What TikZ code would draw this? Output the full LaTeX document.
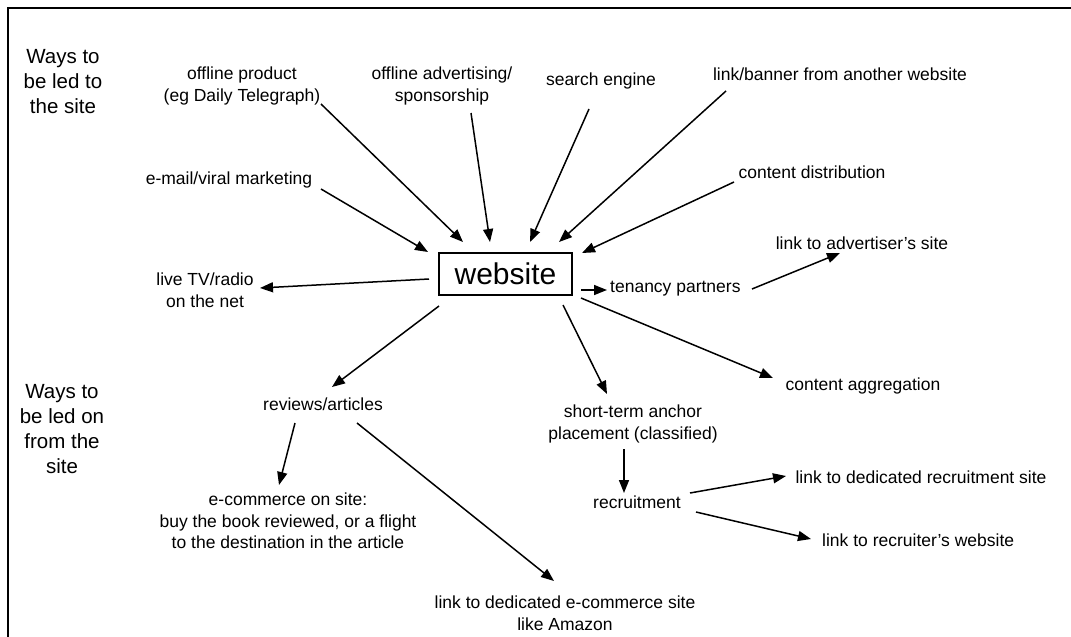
\documentclass[tikz,border=0pt]{standalone}
\usepackage{fontspec}
\setmainfont{Liberation Sans}
\usetikzlibrary{arrows.meta}
\begin{document}
\begin{tikzpicture}[x=1pt,y=-1pt,
  lbl/.style={font=\fontsize{17.5}{21.5}\selectfont, align=center, inner sep=0pt},
  side/.style={font=\fontsize{20.5}{25}\selectfont, align=center, inner sep=0pt},
  hub/.style={draw, line width=1.5pt, minimum width=133pt, minimum height=42pt,
              inner sep=0pt, font=\fontsize{30}{36}\selectfont},
  conn/.style={line width=1.5pt, -{Triangle[length=13pt,width=10pt]}},
  frame/.style={line width=1.7pt}]
\useasboundingbox (0,0) rectangle (1071,637);

% open frame: top and left edges only
\coordinate (fr1) at (1071,8);
\coordinate (fr2) at (8,8);
\coordinate (fr3) at (8,637);
\draw[frame] (fr1) -- (fr2) -- (fr3);

% side headings
\node[side] (waysto)   at (63,82)  {Ways to\\be led to\\the site};
\node[side] (waysfrom) at (62,429) {Ways to\\be led on\\from the\\site};

% central node
\node[hub] (web) at (505.5,274) {website};

% sources leading to the site
\node[lbl] (offprod) at (242,86)  {offline product\\(eg Daily Telegraph)};
\node[lbl] (offadv)  at (442,86)  {offline advertising/\\sponsorship};
\node[lbl] (search)  at (601,81)  {search engine};
\node[lbl] (banner)  at (840,74)  {link/banner from another website};
\node[lbl] (email)   at (229,180) {e-mail/viral marketing};
\node[lbl] (distrib) at (812,172) {content distribution};

% destinations led on from the site
\node[lbl] (livetv)    at (205,290) {live TV/radio\\on the net};
\node[lbl, anchor=west] (tenancy) at (610,289) {tenancy partners};
\node[lbl] (advsite)   at (862,243) {link to advertiser’s site};
\node[lbl] (aggr)      at (863,386) {content aggregation};
\node[lbl] (reviews)   at (323,404) {reviews/articles};
\node[lbl] (shortterm) at (633,424) {short-term anchor\\placement (classified)};
\node[lbl] (recruit)   at (637,502) {recruitment};
\node[lbl] (dedrec)    at (921,477) {link to dedicated recruitment site};
\node[lbl, anchor=west] (recruiter) at (822,540) {link to recruiter’s website};
\node[lbl] (ecom)      at (288,521) {e-commerce on site:\\buy the book reviewed, or a flight\\to the destination in the article};
\node[lbl] (amazon)    at (565,613) {link to dedicated e-commerce site\\like Amazon};

% connector end points
\coordinate (offprodS) at (321,104);  \coordinate (offprodE) at (463,242);
\coordinate (offadvS)  at (471,113);  \coordinate (offadvE)  at (490,242);
\coordinate (searchS)  at (589,109);  \coordinate (searchE)  at (530,242);
\coordinate (bannerS)  at (726,91);   \coordinate (bannerE)  at (559,242);
\coordinate (distribS) at (734,182);  \coordinate (distribE) at (582,253);
\coordinate (emailS)   at (321,189);  \coordinate (emailE)   at (428,252);
\coordinate (livetvS)  at (429,279);  \coordinate (livetvE)  at (260,288);
\coordinate (tenS)     at (581,290);  \coordinate (tenE)     at (607,290);
\coordinate (advS)     at (752,289);  \coordinate (advE)     at (840,253);
\coordinate (aggrS)    at (581,298);  \coordinate (aggrE)    at (773,378);
\coordinate (revS)     at (439,306);  \coordinate (revE)     at (332,387);
\coordinate (shortS)   at (563,305);  \coordinate (shortE)   at (607,394);
\coordinate (ecomS)    at (295,423);  \coordinate (ecomE)    at (279,485);
\coordinate (amazS)    at (357,423);  \coordinate (amazE)    at (554,581);
\coordinate (recS)     at (624,449);  \coordinate (recE)     at (624,493);
\coordinate (dedS)     at (690,493);  \coordinate (dedE)     at (786,476);
\coordinate (rcrS)     at (696,512);  \coordinate (rcrE)     at (811,539);

% connectors into the site
\draw[conn] (offprodS) -- (offprodE);
\draw[conn] (offadvS)  -- (offadvE);
\draw[conn] (searchS)  -- (searchE);
\draw[conn] (bannerS)  -- (bannerE);
\draw[conn] (distribS) -- (distribE);
\draw[conn] (emailS)   -- (emailE);

% connectors out of the site
\draw[conn] (livetvS) -- (livetvE);
\draw[conn] (tenS)    -- (tenE);
\draw[conn] (advS)    -- (advE);
\draw[conn] (aggrS)   -- (aggrE);
\draw[conn] (revS)    -- (revE);
\draw[conn] (shortS)  -- (shortE);
\draw[conn] (ecomS)   -- (ecomE);
\draw[conn] (amazS)   -- (amazE);
\draw[conn] (recS)    -- (recE);
\draw[conn] (dedS)    -- (dedE);
\draw[conn] (rcrS)    -- (rcrE);
\end{tikzpicture}
\end{document}
